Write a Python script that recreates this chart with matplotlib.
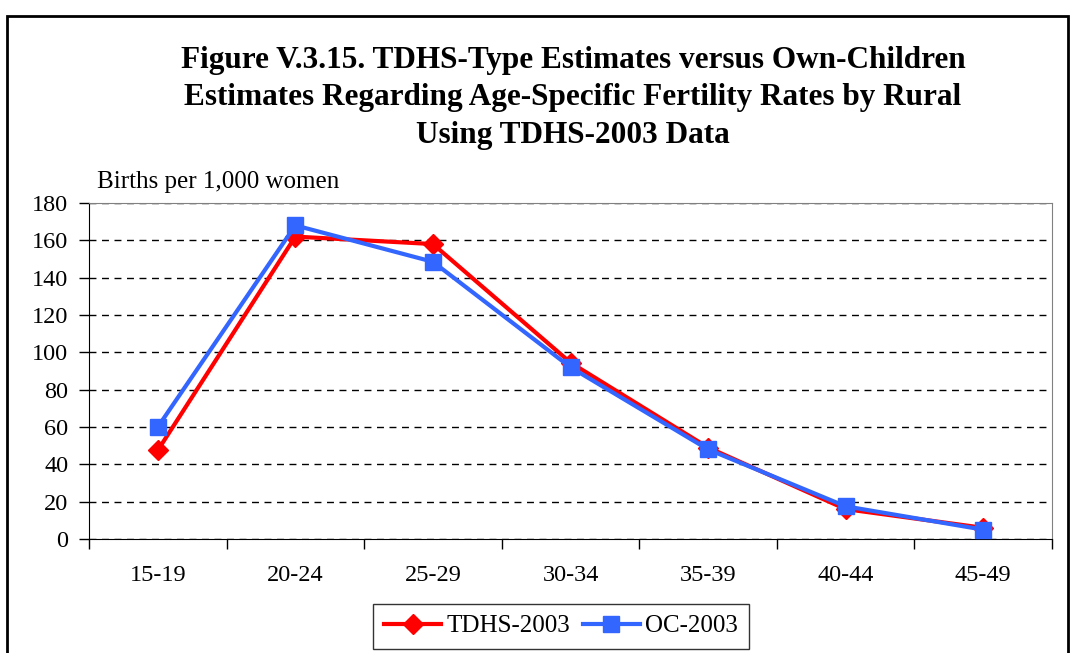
import matplotlib.pyplot as plt
from matplotlib.patches import Rectangle
from matplotlib.ticker import FixedLocator, NullFormatter

age_groups = ['15-19', '20-24', '25-29', '30-34', '35-39', '40-44', '45-49']
tdhs_2003 = [47.5, 162, 158, 94.5, 49, 16, 6]
oc_2003 = [60, 168, 148.5, 92, 48, 17.5, 5]

plt.rcParams['font.family'] = ['Liberation Serif', 'DejaVu Serif']

W, H = 1075, 653
fig = plt.figure(figsize=(W / 100, H / 100), dpi=100)

# outer frame (bottom runs off the picture)
fig.patches.append(Rectangle((7 / W, -0.05), (1068 - 7) / W, 1.05 - 16 / H,
                             transform=fig.transFigure, fill=False,
                             edgecolor='black', linewidth=2))

ax = fig.add_axes([89 / W, 1 - 539 / H, (1052 - 89) / W, (539 - 203) / H])

x = list(range(len(age_groups)))
ax.plot(x, tdhs_2003, color='#ff0000', linewidth=3, marker='D', markersize=10,
        label='TDHS-2003', zorder=3)
ax.plot(x, oc_2003, color='#3366ff', linewidth=3, marker='s', markersize=11,
        label='OC-2003', zorder=4)

ax.set_xlim(-0.5, len(age_groups) - 0.5)
ax.set_ylim(0, 180)
ax.set_yticks(range(0, 181, 20))
ax.xaxis.set_major_locator(FixedLocator([i - 0.5 for i in range(len(age_groups) + 1)]))
ax.xaxis.set_major_formatter(NullFormatter())
ax.xaxis.set_minor_locator(FixedLocator(x))
ax.set_xticklabels(age_groups, minor=True)
ax.tick_params(axis='x', which='minor', length=0, pad=19, labelsize=17.5)
ax.tick_params(axis='x', which='major', direction='out', length=7, width=1)
ax.tick_params(axis='y', direction='out', length=7, width=1, labelsize=17.5, pad=8)

ax.yaxis.grid(True, linestyle=(0, (5, 4)), color='black', linewidth=1)
ax.set_axisbelow(True)
for s in ['top', 'right']:
    ax.spines[s].set_color('#808080')
for s in ['left', 'bottom']:
    ax.spines[s].set_color('black')

fig.text(97 / W, 1 - 182 / H, 'Births per 1,000 women', fontsize=18,
         ha='left', va='center')

fig.text(573 / W, 1 - 98 / H,
         'Figure V.3.15. TDHS-Type Estimates versus Own-Children\n'
         'Estimates Regarding Age-Specific Fertility Rates by Rural\n'
         'Using TDHS-2003 Data',
         fontsize=22.5, fontweight='bold', ha='center', va='center',
         linespacing=1.4)

leg = fig.legend(loc='center', bbox_to_anchor=(561 / W, 1 - 626 / H),
                 ncol=2, fontsize=18, frameon=True, fancybox=False,
                 edgecolor='black', handlelength=2.3, columnspacing=0.5,
                 handletextpad=0.2, borderpad=0.45, borderaxespad=0)
leg.get_frame().set_linewidth(1)

fig.savefig('out.png', dpi=100)
